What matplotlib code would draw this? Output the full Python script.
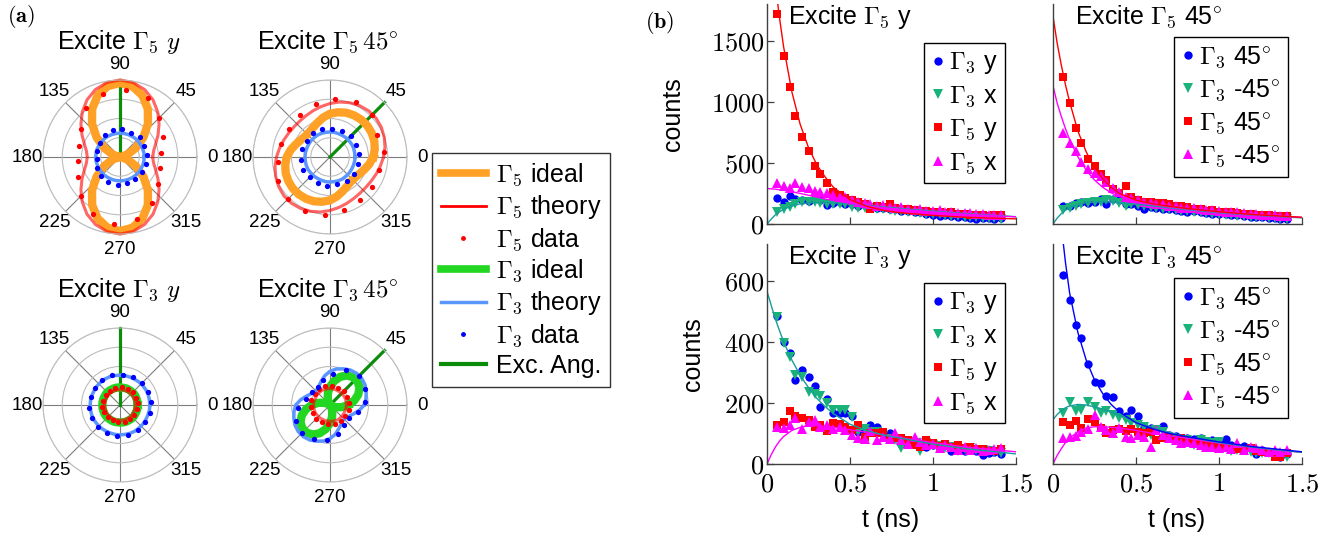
import numpy as np
import matplotlib.pyplot as plt
from matplotlib.lines import Line2D
from matplotlib.ticker import FuncFormatter

plt.rcParams['font.family'] = ['Liberation Sans', 'DejaVu Sans']
plt.rcParams['mathtext.fontset'] = 'cm'

W, H = 1337, 537

# ---------------- (a) polarization patterns ----------------
# curves are pi-periodic: radii given for 0..170 deg, repeated for 180..350
ang_half = [0, 10, 20, 30, 40, 50, 60, 70, 80, 90, 100, 110, 120, 130, 140, 150, 160, 170]
ang_dots = [5, 25, 45, 65, 85, 105, 125, 145, 165, 185, 205, 225, 245, 265, 285, 305, 325, 345]
pol_ticks = ['0', '45', '90', '135', '180', '225', '270', '315']

# Excite G5 y
e5y_exc = 90
e5y_ideal5 = [0.0, 0.12, 0.45, 0.96, 1.59, 2.26, 2.89, 3.40, 3.73, 3.85, 3.73, 3.40, 2.89, 2.26, 1.59, 0.96, 0.45, 0.12]
e5y_theory5 = [1.70, 1.77, 1.97, 2.28, 2.65, 3.05, 3.43, 3.73, 3.93, 4.00, 3.93, 3.73, 3.43, 3.05, 2.65, 2.28, 1.97, 1.77]
e5y_theory3 = [1.26, 1.26, 1.25, 1.25, 1.25, 1.25, 1.24, 1.24, 1.24, 1.24, 1.24, 1.24, 1.25, 1.25, 1.25, 1.25, 1.26, 1.26]
e5y_data5 = [2.15, 2.46, 2.90, 3.40, 3.50, 3.37, 3.10, 2.50, 2.20, 2.18, 2.41, 2.90, 3.28, 3.49, 3.35, 2.94, 2.44, 2.15]
e5y_data3 = [1.42, 1.38, 1.45, 1.38, 1.44, 1.45, 1.38, 1.30, 1.22, 1.20, 1.30, 1.40, 1.45, 1.45, 1.42, 1.38, 1.40, 1.42]

# Excite G5 45
e545_exc = 45
e545_ideal5 = [2.25, 2.36, 2.45, 2.50, 2.53, 2.53, 2.50, 2.45, 2.36, 2.25, 2.08, 1.90, 1.76, 1.68, 1.68, 1.76, 1.90, 2.08]
e545_theory5 = [2.78, 2.90, 3.00, 3.08, 3.13, 3.13, 3.08, 3.00, 2.90, 2.78, 2.66, 2.56, 2.48, 2.44, 2.44, 2.48, 2.56, 2.66]
e545_theory3 = [1.30, 1.30, 1.31, 1.31, 1.30, 1.30, 1.29, 1.29, 1.30, 1.30, 1.30, 1.31, 1.31, 1.30, 1.30, 1.29, 1.29, 1.30]
e545_data5 = [2.81, 2.72, 3.07, 3.15, 3.00, 2.86, 2.68, 2.58, 2.63, 2.73, 2.96, 3.07, 3.10, 3.00, 2.83, 2.74, 2.68, 2.64]
e545_data3 = [1.52, 1.48, 1.55, 1.50, 1.47, 1.53, 1.50, 1.45, 1.52, 1.50, 1.55, 1.48, 1.50, 1.53, 1.47, 1.50, 1.52, 1.49]

# Excite G3 y
e3y_exc = 90
e3y_ideal3 = [0.92, 0.92, 0.92, 0.93, 0.93, 0.92, 0.92, 0.92, 0.91, 0.91, 0.92, 0.92, 0.92, 0.93, 0.93, 0.92, 0.92, 0.92]
e3y_theory5 = [0.80, 0.80, 0.80, 0.81, 0.81, 0.80, 0.80, 0.80, 0.79, 0.79, 0.80, 0.80, 0.80, 0.81, 0.81, 0.80, 0.80, 0.80]
e3y_theory3 = [1.55, 1.55, 1.56, 1.56, 1.55, 1.55, 1.54, 1.54, 1.55, 1.55, 1.55, 1.56, 1.56, 1.55, 1.55, 1.54, 1.54, 1.55]
e3y_data5 = [0.92, 0.90, 0.95, 0.93, 0.95, 0.92, 0.90, 0.88, 0.90, 0.92, 0.90, 0.88, 0.85, 0.90, 0.92, 0.90, 0.88, 0.90]
e3y_data3 = [1.60, 1.62, 1.58, 1.60, 1.58, 1.62, 1.60, 1.57, 1.55, 1.60, 1.62, 1.60, 1.58, 1.62, 1.60, 1.60, 1.57, 1.60]

# Excite G3 45
e345_exc = 45
e345_ideal3 = [0.95, 1.27, 1.56, 1.77, 1.88, 1.88, 1.77, 1.56, 1.27, 0.95, 0.63, 0.34, 0.13, 0.02, 0.02, 0.13, 0.34, 0.63]
e345_theory5 = [0.85, 0.85, 0.86, 0.86, 0.85, 0.85, 0.84, 0.84, 0.85, 0.85, 0.85, 0.86, 0.86, 0.85, 0.85, 0.84, 0.84, 0.85]
e345_theory3 = [1.78, 1.90, 2.00, 2.10, 2.15, 2.15, 2.10, 2.00, 1.90, 1.75, 1.55, 1.32, 1.15, 1.05, 1.05, 1.15, 1.32, 1.55]
e345_data5 = [1.00, 0.98, 1.02, 1.00, 0.97, 1.00, 1.02, 0.98, 1.00, 1.00, 0.97, 1.02, 1.00, 0.98, 1.00, 1.02, 0.98, 1.00]
e345_data3 = [1.80, 1.98, 2.10, 2.00, 1.64, 1.35, 1.13, 1.15, 1.30, 1.68, 1.96, 2.05, 1.97, 1.80, 1.55, 1.26, 1.20, 1.48]

# ---------------- (b) time traces ----------------
t_data = [0.06, 0.10, 0.14, 0.17, 0.21, 0.25, 0.29, 0.32, 0.36, 0.40, 0.44, 0.47, 0.51, 0.55, 0.59,
          0.62, 0.66, 0.70, 0.74, 0.77, 0.81, 0.85, 0.89, 0.92, 0.96, 1.00, 1.04, 1.07, 1.11, 1.15,
          1.19, 1.22, 1.26, 1.30, 1.34, 1.37, 1.41]
t_fit = [0, 0.025, 0.05, 0.075, 0.1, 0.15, 0.2, 0.25, 0.3, 0.35, 0.4, 0.5, 0.6, 0.7, 0.8, 1.0, 1.2, 1.5]

# Excite G5 y
b1_g3y = [216, 183, 229, 205, 197, 188, 216, 197, 156, 169, 177, 164, 160, 150, 155, 140, 135, 130, 125,
          120, 110, 105, 100, 95, 85, 74, 66, 70, 65, 60, 55, 50, 41, 46, 50, 45, 48]
b1_g3x = [101, 120, 142, 164, 183, 183, 183, 169, 164, 164, 164, 164, 142, 128, 128, 135, 125, 120, 115,
          110, 105, 100, 95, 90, 85, 80, 78, 72, 68, 65, 60, 58, 55, 52, 50, 48, 45]
b1_g5y = [1720, 1376, 1119, 887, 710, 600, 478, 410, 333, 260, 235, 215, 195, 180, 160, 125, 150, 140, 160,
          130, 125, 120, 115, 105, 110, 100, 95, 90, 95, 85, 80, 70, 75, 70, 65, 70, 72]
b1_g5x = [339, 314, 292, 339, 306, 292, 273, 265, 251, 238, 218, 224, 200, 180, 175, 160, 150, 155, 140,
          130, 138, 125, 118, 122, 110, 105, 112, 100, 95, 92, 88, 90, 80, 78, 75, 72, 70]
b1_fit5y = [2680, 2290, 1965, 1690, 1450, 1080, 815, 625, 485, 385, 300, 200, 145, 112, 92, 70, 55, 42]
b1_fit5x = [290, 288, 285, 281, 276, 264, 250, 235, 220, 205, 192, 170, 150, 134, 121, 99, 80, 58]
b1_fit3 = [0, 40, 75, 100, 120, 148, 165, 173, 177, 177, 174, 165, 153, 140, 128, 105, 85, 60]

# Excite G5 45
b2_g3p = [150, 150, 169, 183, 169, 183, 205, 164, 202, 197, 164, 164, 150, 120, 140, 130, 125, 120, 115,
          110, 100, 105, 95, 90, 85, 80, 78, 72, 70, 65, 60, 58, 55, 50, 48, 45, 42]
b2_g3m = [115, 128, 150, 164, 175, 177, 183, 197, 188, 175, 147, 164, 155, 145, 140, 135, 125, 120, 115,
          110, 105, 100, 95, 90, 85, 80, 75, 72, 68, 65, 60, 58, 55, 50, 48, 45, 40]
b2_g5p = [1201, 994, 789, 666, 530, 475, 410, 360, 284, 257, 311, 224, 197, 183, 183, 175, 169, 160, 150,
          145, 140, 125, 120, 110, 115, 100, 95, 98, 90, 85, 80, 75, 72, 70, 65, 68, 66]
b2_g5m = [743, 661, 601, 511, 448, 415, 393, 347, 292, 265, 224, 210, 197, 177, 169, 165, 160, 150, 145,
          135, 130, 128, 120, 115, 118, 105, 100, 98, 95, 88, 85, 80, 75, 72, 70, 65, 62]
b2_fit5p = [1700, 1480, 1300, 1140, 1000, 760, 590, 460, 370, 300, 250, 195, 165, 145, 128, 100, 78, 55]
b2_fit5m = [1130, 990, 880, 780, 690, 550, 440, 360, 300, 255, 225, 185, 160, 140, 125, 98, 76, 54]
b2_fit3 = [0, 48, 85, 112, 135, 160, 175, 180, 182, 180, 175, 162, 148, 133, 118, 92, 72, 50]

# Excite G3 y
b3_g3y = [485, 398, 363, 275, 308, 286, 254, 188, 212, 166, 166, 168, 157, 106, 105, 127, 120, 98, 101,
          84, 66, 79, 73, 62, 57, 62, 55, 62, 44, 48, 44, 48, 44, 30, 35, 40, 33]
b3_g3x = [481, 396, 350, 292, 286, 237, 230, 221, 199, 177, 177, 177, 155, 106, 114, 106, 106, 92, 81,
          79, 51, 73, 68, 44, 68, 62, 59, 51, 57, 44, 48, 51, 46, 46, 44, 40, 37]
b3_g5y = [128, 139, 172, 157, 150, 144, 122, 128, 109, 133, 131, 122, 111, 128, 90, 101, 103, 106, 79,
          84, 86, 79, 62, 57, 79, 68, 59, 66, 57, 62, 51, 55, 48, 48, 44, 44, 48]
b3_g5x = [120, 117, 128, 150, 114, 136, 144, 120, 128, 114, 122, 111, 95, 84, 81, 109, 79, 90, 81,
          101, 79, 66, 87, 73, 62, 66, 51, 62, 55, 46, 57, 46, 51, 44, 46, 48, 51]
b3_fit3 = [565, 520, 475, 437, 400, 340, 290, 250, 215, 188, 165, 130, 110, 95, 85, 65, 50, 33]
b3_fit5 = [0, 30, 55, 75, 90, 110, 120, 125, 125, 123, 120, 112, 104, 95, 86, 70, 55, 40]

# Excite G3 45
b4_g3p = [618, 538, 456, 412, 328, 267, 265, 221, 218, 172, 157, 177, 157, 122, 117, 111, 126, 95, 92,
          81, 84, 81, 84, 73, 77, 68, 81, 62, 57, 59, 51, 33, 46, 40, 30, 24, 33]
b4_g3m = [168, 204, 172, 177, 204, 188, 166, 172, 161, 150, 144, 133, 128, 122, 95, 111, 106, 84, 79,
          73, 77, 62, 77, 73, 68, 73, 51, 44, 46, 46, 40, 35, 37, 35, 30, 26, 24]
b4_g5p = [136, 128, 142, 117, 146, 136, 117, 101, 111, 114, 108, 114, 106, 103, 106, 79, 84, 90, 77,
          84, 70, 73, 68, 59, 62, 57, 51, 55, 48, 46, 51, 44, 40, 37, 24, 22, 35]
b4_g5m = [84, 90, 92, 106, 114, 161, 122, 111, 101, 117, 90, 84, 95, 90, 57, 111, 95, 84, 79,
          68, 73, 68, 62, 57, 57, 51, 55, 48, 68, 46, 57, 51, 46, 40, 46, 40, 46]
b4_fit3p = [1100, 930, 780, 660, 560, 430, 340, 275, 230, 195, 170, 135, 115, 100, 90, 72, 57, 40]
b4_fit3m = [145, 162, 175, 184, 190, 195, 193, 187, 180, 170, 160, 140, 120, 104, 90, 70, 55, 38]
b4_fit5 = [0, 28, 50, 70, 85, 105, 118, 122, 122, 120, 118, 110, 100, 92, 85, 68, 54, 38]

lab_xy = [r'$\Gamma_3$ y', r'$\Gamma_3$ x', r'$\Gamma_5$ y', r'$\Gamma_5$ x']
lab_45 = [r'$\Gamma_3$ 45$^{\circ}$', r'$\Gamma_3$ -45$^{\circ}$',
          r'$\Gamma_5$ 45$^{\circ}$', r'$\Gamma_5$ -45$^{\circ}$']

# colours
c_orange = '#ffa126'
c_lime = '#22d622'
c_exc = '#0b8c0b'
c_blueth = '#5b96ff'
c_blue = '#0000ff'
c_green = '#19b27b'
c_red = '#ff0000'
c_mag = '#ff00ff'
c_teal = '#179c9c'

fig = plt.figure(figsize=(13.37, 5.37), dpi=100)


def closed(half):
    th = np.deg2rad(ang_half + [a + 180 for a in ang_half] + [360])
    return th, half + half + [half[0]]


def polar_panel(cx, cy, tx, ty, title, exc, ideal, ideal_col, th5, th3, d5, d3):
    R = 77
    ax = fig.add_axes([(cx - R) / W, 1 - (cy + R) / H, 2 * R / W, 2 * R / H], projection='polar')
    ax.plot(np.deg2rad([exc, exc]), [0, 4], color=c_exc, lw=2.3, zorder=1.8, clip_on=False)
    th, r = closed(ideal)
    ax.plot(th, r, color=ideal_col, lw=6, zorder=2, solid_joinstyle='round', clip_on=False)
    th, r = closed(th5)
    ax.plot(th, r, color='red', alpha=0.6, lw=2.2, zorder=2.5, clip_on=False)
    th, r = closed(th3)
    ax.plot(th, r, color=c_blueth, lw=2.5, zorder=2.5, clip_on=False)
    ax.plot(np.deg2rad(ang_dots), d5, 'o', color='red', ms=3.8, mew=0, zorder=3, clip_on=False)
    ax.plot(np.deg2rad(ang_dots), d3, 'o', color='blue', ms=3.8, mew=0, zorder=3, clip_on=False)
    ax.set_ylim(0, 4)
    ax.set_rticks([1, 2, 3, 4])
    ax.set_yticklabels([])
    ax.set_thetagrids(range(0, 360, 45), pol_ticks, fontsize=13.5)
    ax.tick_params(axis='x', pad=1)
    ax.xaxis.grid(True, color='#7d7d7d', lw=0.8)
    ax.yaxis.grid(True, color='#bdbdbd', lw=0.8)
    ax.spines['polar'].set_color('#bdbdbd')
    ax.spines['polar'].set_linewidth(0.8)
    fig.text(tx / W, 1 - ty / H, title, fontsize=18, ha='left', va='baseline')


polar_panel(120, 157, 57, 49, r'Excite $\Gamma_5\ y$', e5y_exc, e5y_ideal5, c_orange,
            e5y_theory5, e5y_theory3, e5y_data5, e5y_data3)
polar_panel(330, 157, 257, 49, r'Excite $\Gamma_5\,45^{\circ}$', e545_exc, e545_ideal5, c_orange,
            e545_theory5, e545_theory3, e545_data5, e545_data3)
polar_panel(120, 405, 57, 297, r'Excite $\Gamma_3\ y$', e3y_exc, e3y_ideal3, c_lime,
            e3y_theory5, e3y_theory3, e3y_data5, e3y_data3)
polar_panel(330, 405, 257, 297, r'Excite $\Gamma_3\,45^{\circ}$', e345_exc, e345_ideal3, c_lime,
            e345_theory5, e345_theory3, e345_data5, e345_data3)

handles = [Line2D([], [], color=c_orange, lw=5.5),
           Line2D([], [], color='red', lw=2),
           Line2D([], [], color='red', marker='o', ms=3.5, mew=0, ls='none'),
           Line2D([], [], color=c_lime, lw=5.5),
           Line2D([], [], color=c_blueth, lw=2.5),
           Line2D([], [], color='blue', marker='o', ms=3.5, mew=0, ls='none'),
           Line2D([], [], color=c_exc, lw=3)]
labels = [r'$\Gamma_5$ ideal', r'$\Gamma_5$ theory', r'$\Gamma_5$ data',
          r'$\Gamma_3$ ideal', r'$\Gamma_3$ theory', r'$\Gamma_3$ data', 'Exc. Ang.']
leg = fig.legend(handles, labels, loc='upper left', bbox_to_anchor=(432 / W, 1 - 153 / H),
                 fontsize=18, frameon=True, fancybox=False, edgecolor='#333333', framealpha=1,
                 borderaxespad=0, borderpad=0.35, handlelength=1.8, handletextpad=0.4,
                 labelspacing=0.2)
leg.get_frame().set_linewidth(1.0)


def decay_panel(left, top, ymax, yticks, title, data, fits, labels, leg_xy, first_col, bottom_row):
    ax = fig.add_axes([left / W, 1 - (top + 220) / H, 249 / W, 220 / H])
    styles = [('o', c_blue, 6), ('v', c_green, 6.8), ('s', c_red, 5.6), ('^', c_mag, 7)]
    for vals, (mk, col, ms), lab in zip(data, styles, labels):
        ax.plot(t_data, vals, ls='none', marker=mk, color=col, ms=ms, mew=0, label=lab)
    for vals, col in fits:
        ax.plot(t_fit, vals, color=col, lw=1.0)
    ax.set_xlim(0, 1.5)
    ax.set_ylim(0, ymax)
    ax.set_xticks([0, 0.5, 1, 1.5])
    ax.set_yticks(yticks)
    fmt = FuncFormatter(lambda v, p: f'${v:g}$')
    ax.xaxis.set_major_formatter(fmt)
    ax.yaxis.set_major_formatter(fmt)
    for s in ['top', 'right']:
        ax.spines[s].set_visible(False)
    for s in ['left', 'bottom']:
        ax.spines[s].set_color('#404040')
        ax.spines[s].set_linewidth(1.0)
    ax.tick_params(direction='in', length=5, width=0.9, color='#404040', labelsize=19)
    ax.tick_params(axis='y', pad=2)
    ax.tick_params(axis='x', pad=6)
    if not bottom_row:
        ax.tick_params(axis='x', labelbottom=False)
    if not first_col:
        ax.tick_params(axis='y', labelleft=False, length=0)
    fig.text((left + 21 + (0 if first_col else 1)) / W, 1 - (top + 20) / H, title,
             fontsize=18, ha='left', va='baseline')
    lg = ax.legend(loc='upper left', bbox_to_anchor=(leg_xy[0] / W, 1 - leg_xy[1] / H),
                   bbox_transform=fig.transFigure, fontsize=18, frameon=True, fancybox=False,
                   edgecolor='black', framealpha=1, borderaxespad=0, borderpad=0.3,
                   handlelength=0.5, handletextpad=0.2, labelspacing=0.3, numpoints=1)
    lg.get_frame().set_linewidth(1.0)
    return ax


decay_panel(767, 4, 1800, [0, 500, 1000, 1500], r'Excite $\Gamma_5$ y',
            [b1_g3y, b1_g3x, b1_g5y, b1_g5x],
            [(b1_fit3, c_teal), (b1_fit5x, c_mag), (b1_fit5y, c_red)],
            lab_xy, (924, 43), True, False)
decay_panel(1053, 4, 1800, [0, 500, 1000, 1500], r'Excite $\Gamma_5$ 45$^{\circ}$',
            [b2_g3p, b2_g3m, b2_g5p, b2_g5m],
            [(b2_fit3, c_teal), (b2_fit5m, c_mag), (b2_fit5p, c_red)],
            lab_45, (1174, 37), False, False)
decay_panel(767, 244, 720, [0, 200, 400, 600], r'Excite $\Gamma_3$ y',
            [b3_g3y, b3_g3x, b3_g5y, b3_g5x],
            [(b3_fit5, c_mag), (b3_fit3, c_teal)],
            lab_xy, (924, 283), True, True)
decay_panel(1053, 244, 720, [0, 200, 400, 600], r'Excite $\Gamma_3$ 45$^{\circ}$',
            [b4_g3p, b4_g3m, b4_g5p, b4_g5m],
            [(b4_fit5, c_mag), (b4_fit3m, c_teal), (b4_fit3p, c_blue)],
            lab_45, (1174, 278), False, True)

fig.text(673 / W, 1 - 114.5 / H, 'counts', rotation=90, fontsize=18, ha='center', va='center')
fig.text(693 / W, 1 - 354 / H, 'counts', rotation=90, fontsize=18, ha='center', va='center')
fig.text(891 / W, 1 - 520 / H, 't (ns)', fontsize=18, ha='center', va='center')
fig.text(1177 / W, 1 - 520 / H, 't (ns)', fontsize=18, ha='center', va='center')

fig.text(7 / W, 1 - 17 / H, r'$\mathbf{(a)}$', fontsize=16, ha='left', va='center')
fig.text(645 / W, 1 - 22 / H, r'$\mathbf{(b)}$', fontsize=16, ha='left', va='center')

fig.savefig('out.png', dpi=100)
